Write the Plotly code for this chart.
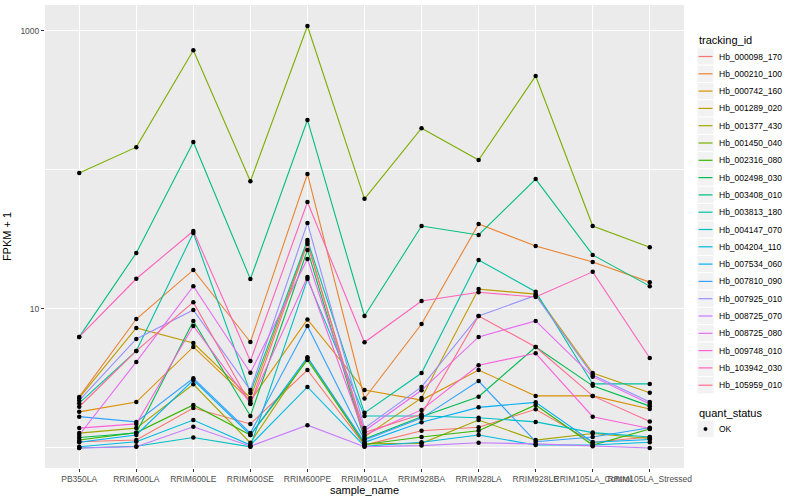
import plotly.graph_objects as go

samples = ["PB350LA", "RRIM600LA", "RRIM600LE", "RRIM600SE", "RRIM600PE", "RRIM901LA",
           "RRIM928BA", "RRIM928LA", "RRIM928LE", "RRIM105LA_Control", "RRIM105LA_Stressed"]

tracking_ids = ["Hb_000098_170", "Hb_000210_100", "Hb_000742_160", "Hb_001289_020", "Hb_001377_430",
                "Hb_001450_040", "Hb_002316_080", "Hb_002498_030", "Hb_003408_010", "Hb_003813_180",
                "Hb_004147_070", "Hb_004204_110", "Hb_007534_060", "Hb_007810_090", "Hb_007925_010",
                "Hb_008725_070", "Hb_008725_080", "Hb_009748_010", "Hb_103942_030", "Hb_105959_010"]

colors = ["#F8766D", "#EA8331", "#D89000", "#C09B00", "#A3A500", "#7CAE00", "#39B600", "#00BB4E",
          "#00BF7D", "#00C1A3", "#00BFC4", "#00BAE0", "#00B0F6", "#35A2FF", "#9590FF", "#C77CFF",
          "#E76BF3", "#FA62DB", "#FF62BC", "#FF6C91"]

# FPKM + 1 per sample, one list per tracking_id
Hb_000098_170 = [1.11, 1.14, 1.94, 1.49, 3.64, 1.05, 1.33, 1.41, 1.90, 1.10, 1.20]
Hb_000210_100 = [2.33, 8.47, 19.1, 5.79, 93.6, 2.27, 7.8, 40.9, 28.4, 21.8, 15.6]
Hb_000742_160 = [1.82, 2.14, 5.33, 2.18, 8.4, 2.61, 2.21, 3.64, 2.37, 2.37, 1.91]
Hb_001289_020 = [2.29, 7.3, 5.69, 2.29, 30.3, 1.20, 2.29, 13.9, 12.8, 3.46, 2.50]
Hb_001377_430 = [1.28, 1.39, 2.87, 1.09, 4.44, 1.07, 1.08, 1.59, 1.14, 1.27, 1.17]
Hb_001450_040 = [95, 146, 726, 83, 1086, 62, 200, 118, 475, 39.5, 27.8]
Hb_002316_080 = [1.14, 1.29, 2.04, 1.24, 4.3, 1.06, 1.20, 1.33, 2.04, 1.05, 1.37]
Hb_002498_030 = [1.19, 1.28, 8.2, 1.70, 26.6, 1.16, 1.68, 2.34, 5.33, 2.80, 2.00]
Hb_003408_010 = [6.3, 25.3, 159, 16.4, 229, 8.9, 39.5, 34.1, 86, 24.5, 14.6]
Hb_003813_180 = [2.10, 4.99, 35.2, 2.49, 31.3, 1.79, 3.46, 22.5, 13.3, 2.89, 2.89]
Hb_004147_070 = [1.00, 1.03, 1.19, 1.02, 16.4, 1.70, 1.70, 1.65, 1.54, 1.29, 1.20]
Hb_004204_110 = [1.02, 1.11, 1.59, 1.05, 2.75, 1.03, 1.10, 1.24, 1.05, 1.05, 1.10]
Hb_007534_060 = [1.10, 1.24, 3.08, 1.24, 4.5, 1.10, 1.53, 1.96, 2.13, 1.10, 1.15]
Hb_007810_090 = [1.68, 1.54, 3.17, 1.28, 7.55, 1.14, 1.64, 3.03, 1.11, 1.20, 1.40]
Hb_007925_010 = [2.20, 6.09, 9.84, 2.61, 41.6, 1.39, 2.75, 8.9, 12.5, 3.35, 2.14]
Hb_008725_070 = [1.00, 1.02, 1.42, 1.03, 1.46, 1.02, 1.04, 1.09, 1.07, 1.03, 1.00]
Hb_008725_080 = [1.24, 4.16, 14.6, 3.48, 22.9, 1.33, 2.60, 6.3, 8.2, 3.26, 2.07]
Hb_009748_010 = [1.39, 1.49, 7.55, 2.10, 17.0, 1.24, 1.88, 3.94, 4.8, 1.68, 1.38]
Hb_103942_030 = [6.3, 16.5, 36.4, 4.23, 58.9, 5.76, 11.4, 13.2, 12.2, 18.5, 4.44]
Hb_105959_010 = [1.98, 4.99, 11.2, 2.07, 29.4, 1.29, 1.75, 8.9, 5.33, 2.37, 1.55]

series = [Hb_000098_170, Hb_000210_100, Hb_000742_160, Hb_001289_020, Hb_001377_430,
          Hb_001450_040, Hb_002316_080, Hb_002498_030, Hb_003408_010, Hb_003813_180,
          Hb_004147_070, Hb_004204_110, Hb_007534_060, Hb_007810_090, Hb_007925_010,
          Hb_008725_070, Hb_008725_080, Hb_009748_010, Hb_103942_030, Hb_105959_010]

quant_status = ["OK"]

y_tick_values = [10, 1000]
y_tick_labels = ["10", "1000"]
y_minor_values = [1, 100]

FONT = "Liberation Sans, Arial, sans-serif"

# figure / panel geometry (pixels)
W, H = 800, 500
ML, MR, MT, MB = 45, 116, 5, 32
PW, PH = W - ML - MR, H - MT - MB


def px(x):
    return (x - ML) / PW


def py(y):
    return (H - MB - y) / PH


fig = go.Figure()
for name, col, vals in zip(tracking_ids, colors, series):
    fig.add_trace(go.Scatter(x=samples, y=vals, mode="lines", name=name,
                             line=dict(color=col, width=1.1), showlegend=False))

all_x = [s for vals in series for s in samples]
all_y = [v for vals in series for v in vals]
fig.add_trace(go.Scatter(x=all_x, y=all_y, mode="markers", name=quant_status[0],
                         marker=dict(color="black", size=4.5, symbol="circle"),
                         showlegend=False))

# hand-placed legends (ggplot style)
shapes = []
annotations = []
annotations.append(dict(text="tracking_id", x=px(697), y=py(40.5), xref="paper", yref="paper",
                        xanchor="left", yanchor="middle", showarrow=False,
                        font=dict(size=11, color="black", family=FONT)))
step = 17.3
for i, (name, col) in enumerate(zip(tracking_ids, colors)):
    cy = 56.5 + step * i
    shapes.append(dict(type="rect", xref="paper", yref="paper",
                       x0=px(697), x1=px(714), y0=py(cy - step / 2), y1=py(cy + step / 2),
                       fillcolor="#F2F2F2", line=dict(color="white", width=1), layer="above"))
    shapes.append(dict(type="line", xref="paper", yref="paper",
                       x0=px(698.5), x1=px(712.5), y0=py(cy), y1=py(cy),
                       line=dict(color=col, width=1.2), layer="above"))
    annotations.append(dict(text=name, x=px(717), y=py(cy), xref="paper", yref="paper",
                            xanchor="left", yanchor="middle", showarrow=False,
                            font=dict(size=8.5, color="black", family=FONT)))

annotations.append(dict(text="quant_status", x=px(697), y=py(412.5), xref="paper", yref="paper",
                        xanchor="left", yanchor="middle", showarrow=False,
                        font=dict(size=11, color="black", family=FONT)))
cy = 429
shapes.append(dict(type="rect", xref="paper", yref="paper",
                   x0=px(697), x1=px(714), y0=py(cy - step / 2), y1=py(cy + step / 2),
                   fillcolor="#F2F2F2", line=dict(color="white", width=1), layer="above"))
shapes.append(dict(type="circle", xref="paper", yref="paper",
                   x0=px(703.8), x1=px(707.2), y0=py(cy - 1.7), y1=py(cy + 1.7),
                   fillcolor="black", line=dict(color="black", width=0.5), layer="above"))
annotations.append(dict(text=quant_status[0], x=px(717), y=py(cy), xref="paper", yref="paper",
                        xanchor="left", yanchor="middle", showarrow=False,
                        font=dict(size=8.5, color="black", family=FONT)))

fig.update_layout(
    width=W, height=H,
    margin=dict(l=ML, r=MR, t=MT, b=MB),
    paper_bgcolor="white", plot_bgcolor="#EBEBEB",
    font=dict(family=FONT, color="black"),
    showlegend=False,
    shapes=shapes, annotations=annotations,
    xaxis=dict(type="category", categoryorder="array", categoryarray=samples,
               range=[-0.6, 10.6], showgrid=True, gridcolor="white", gridwidth=1.1,
               ticks="outside", ticklen=3, tickcolor="#333333", tickwidth=1,
               tickangle=0, tickfont=dict(size=8.5, color="#4D4D4D", family=FONT),
               title=dict(text="sample_name", font=dict(size=11, color="black"), standoff=3),
               zeroline=False, showline=False, automargin=False),
    yaxis=dict(type="log", range=[-0.144, 3.187], tickmode="array",
               tickvals=y_tick_values, ticktext=y_tick_labels,
               showgrid=True, gridcolor="white", gridwidth=1.1,
               minor=dict(tickmode="array", tickvals=y_minor_values, showgrid=True,
                          gridcolor="white", gridwidth=0.5, ticks=""),
               ticks="outside", ticklen=3, tickcolor="#333333", tickwidth=1,
               tickfont=dict(size=8.5, color="#4D4D4D", family=FONT),
               title=dict(text="FPKM + 1", font=dict(size=11, color="black"), standoff=6),
               zeroline=False, showline=False, automargin=False),
)

fig.write_html("out.html", config={"displayModeBar": False},
               post_script="document.body.style.margin='0px';document.body.style.padding='0px';")
